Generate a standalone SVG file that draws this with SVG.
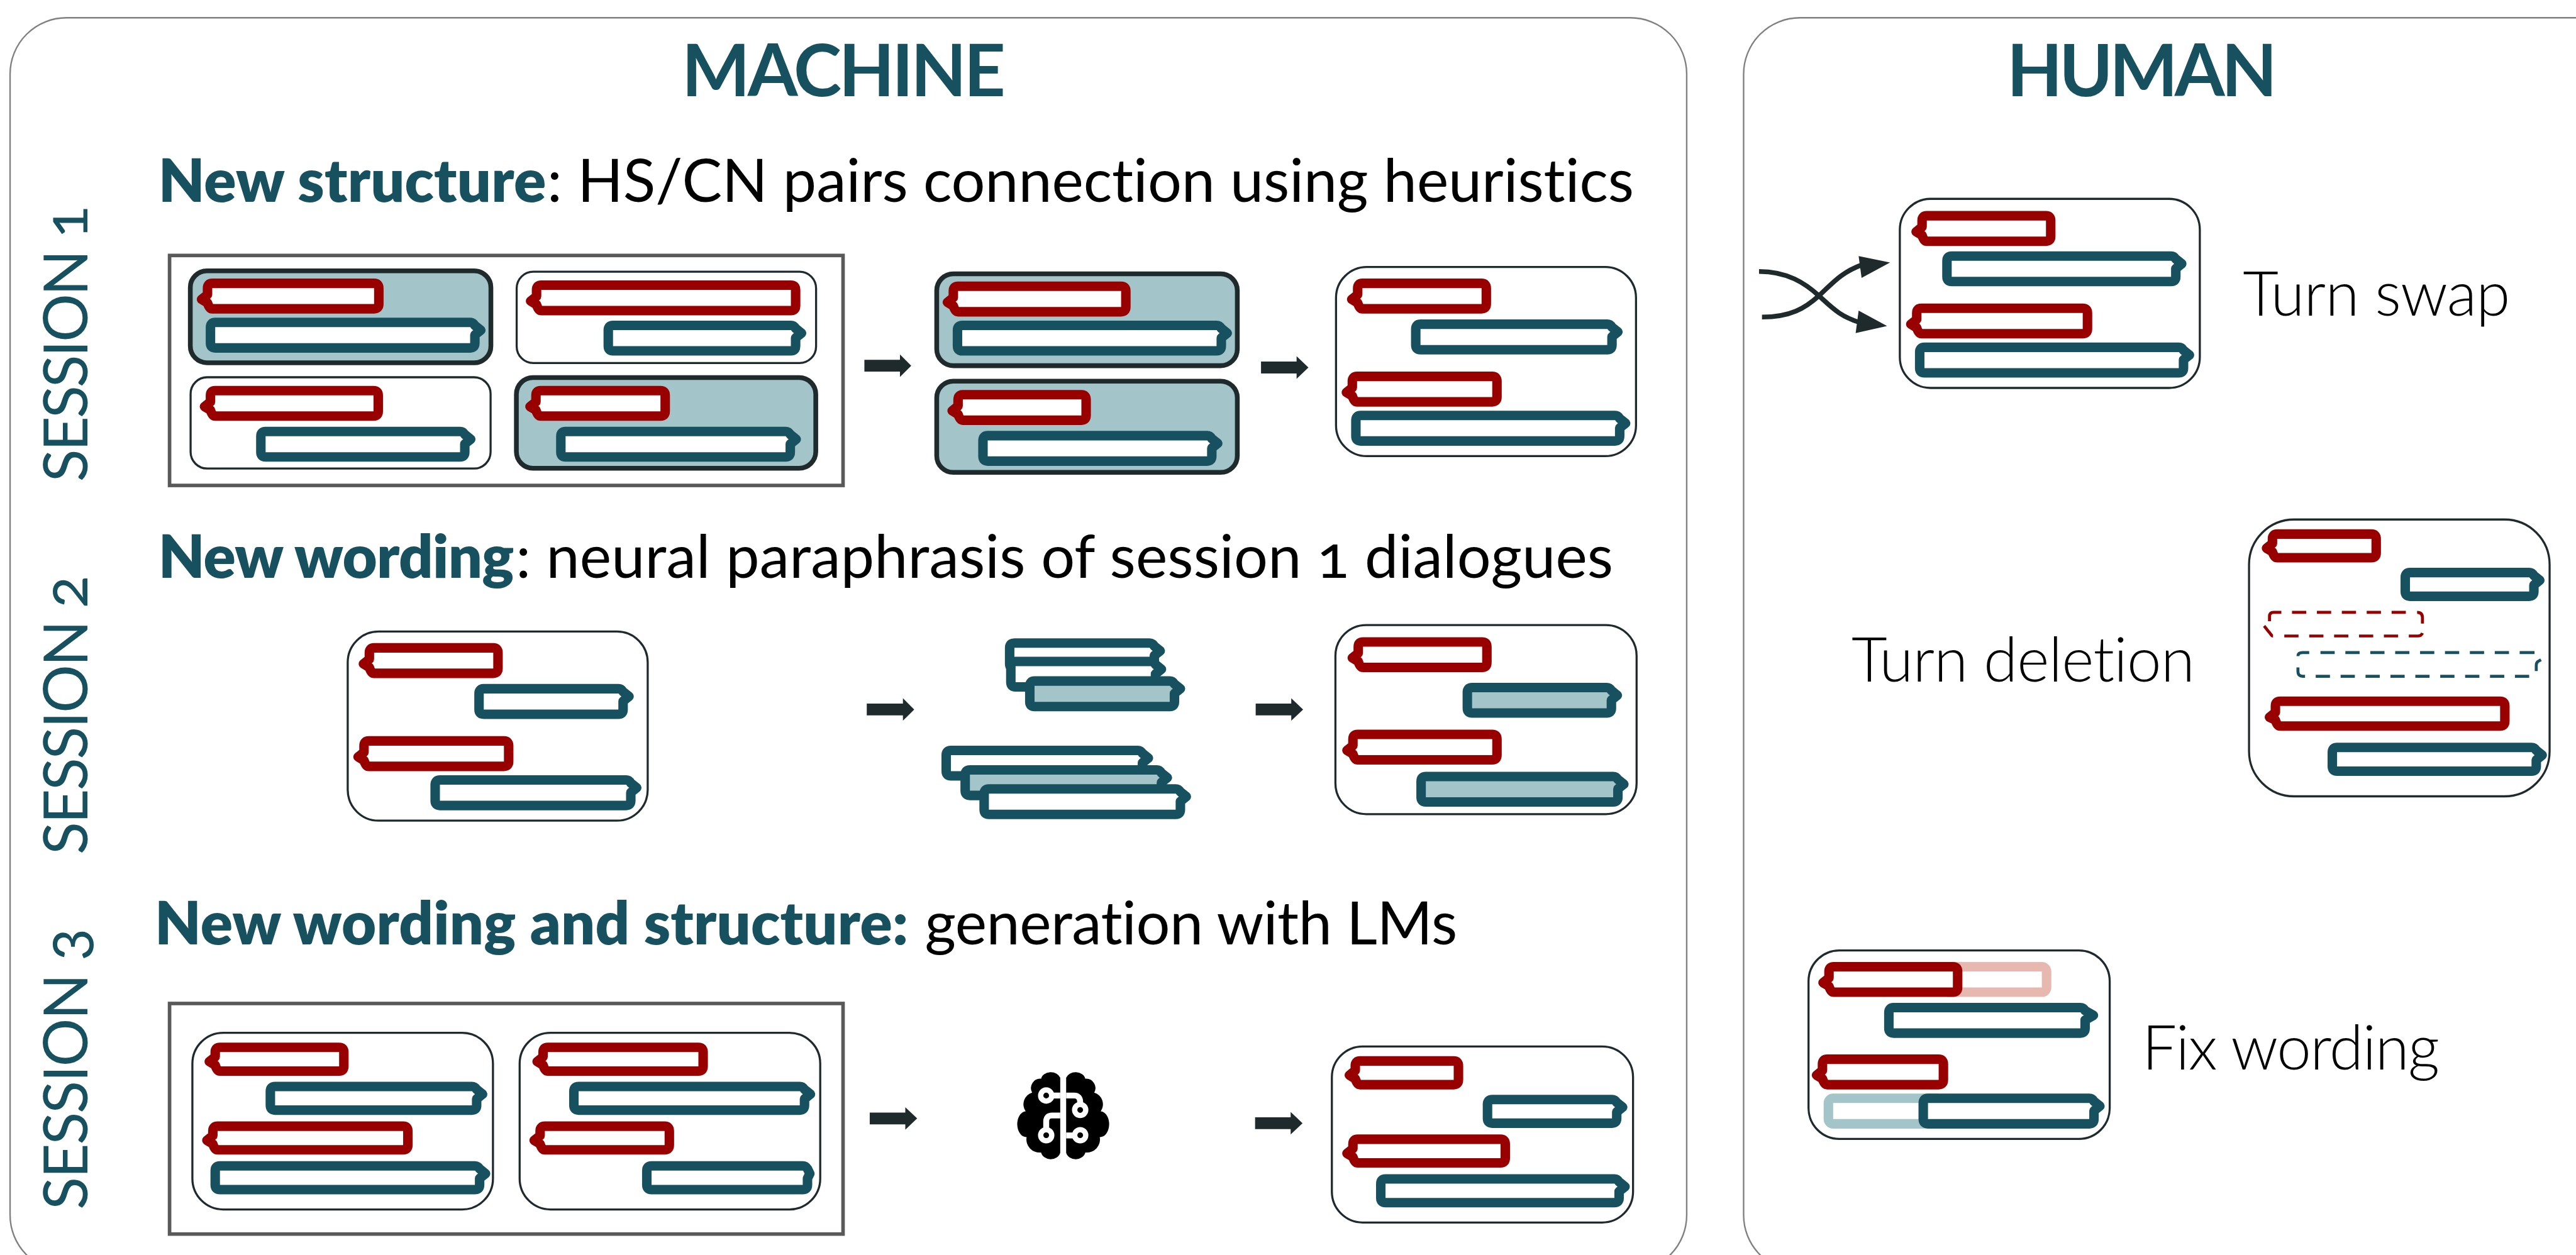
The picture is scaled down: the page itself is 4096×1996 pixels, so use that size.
<svg xmlns="http://www.w3.org/2000/svg" width="4096" height="1996" viewBox="0 0 4096 1996">
<style>
.panel{fill:#fff;stroke:#808080;stroke-width:2.5}
.frame{fill:#fff;stroke:#595959;stroke-width:6}
.thin{fill:#fff;stroke:#1f2a2c;stroke-width:3.5}
.thick{fill:#a3c4c9;stroke:#1f2a2c;stroke-width:8}
.r,.b,.pr,.pb{stroke-width:16;fill:#fff;stroke-linejoin:round}
.r{stroke:#980000}
.b{stroke:#17505f}
.f{fill:#a3c4c9}
.pr{stroke:#e6b8af}
.pb{stroke:#a3c4c9}
.dr,.db{fill:none;stroke-width:5}
.dr{stroke:#980000}
.db{stroke:#17505f}
.arrow{fill:#1f2a2c}
.swap{fill:none;stroke:#1f2a2c;stroke-width:8}
text{font-family:"Lato","Liberation Sans",sans-serif;font-variant-ligatures:none}
.head{font-size:122px;font-weight:700;fill:#17505f}
.tb{font-size:101px;font-weight:800;fill:#17505f}
.tr{font-size:101px;font-weight:400;fill:#000;font-variant-numeric:oldstyle-nums}
.lab{font-size:104px;font-weight:300;fill:#000}
.ses{font-size:102px;font-weight:400;fill:#17505f;font-variant-numeric:oldstyle-nums}
</style>
<rect width="4096" height="1996" fill="#fff"/>
<g transform="scale(0.94269)">
<g id="panel-machine"><rect class="panel" x="17" y="30" width="2828" height="2115" rx="95"/>
<text class="head" x="1150" y="162" textLength="546">MACHINE</text></g>
<g id="panel-human"><rect class="panel" x="2941" y="30" width="1500" height="2115" rx="95"/>
<text class="head" x="3385" y="162" textLength="456">HUMAN</text></g>

<g id="session-labels">
<text class="ses" transform="translate(147 813) rotate(-90)" textLength="466">SESSION 1</text>
<text class="ses" transform="translate(147 1442) rotate(-90)" textLength="471">SESSION 2</text>
<text class="ses" transform="translate(147 2041) rotate(-90)" textLength="475">SESSION 3</text>
</g>
<g id="titles">
<text class="tb" x="267" y="341" textLength="654">New structure</text>
<text class="tr" x="923" y="341" textLength="1833">: HS/CN pairs connection using heuristics</text>
<text class="tb" x="267" y="975" textLength="600">New wording</text>
<text class="tr" x="870" y="975" textLength="1851">: neural paraphrasis of session 1 dialogues</text>
<text class="tb" x="261" y="1593" textLength="1271">New wording and structure:</text>
<text class="tr" x="1560" y="1593" textLength="898">generation with LMs</text>
</g>

<g id="s1-pool">
<rect class="frame" x="286" y="431" width="1136" height="388"/>
<g id="s1-pool-a"><rect class="thick" x="321" y="457" width="507" height="155" rx="28"/>
<path class="r" d="M358 478h273q8 0 8 8v27q0 8-8 8h-273q-5 0-8-10l-10-6 10-8v-11q0-8 8-8z"/>
<path class="b" d="M363 544h430q5 0 8 5l10 8-10 8v14q0 8-8 8h-430q-8 0-8-8v-27q0-8 8-8z"/></g>
<g id="s1-pool-b"><rect class="thin" x="871.5" y="458.5" width="505" height="154" rx="28"/>
<path class="r" d="M913 481h421q8 0 8 8v27q0 8-8 8h-421q-5 0-8-10l-10-6 10-8v-11q0-8 8-8z"/>
<path class="b" d="M1034 549h300q5 0 8 5l10 8-10 8v14q0 8-8 8h-300q-8 0-8-8v-27q0-8 8-8z"/></g>
<g id="s1-pool-c"><rect class="thin" x="321.5" y="636.5" width="506" height="154" rx="28"/>
<path class="r" d="M363 659h267q8 0 8 8v27q0 8-8 8h-267q-5 0-8-10l-10-6 10-8v-11q0-8 8-8z"/>
<path class="b" d="M448 728h328q5 0 8 5l10 8-10 8v14q0 8-8 8h-328q-8 0-8-8v-27q0-8 8-8z"/></g>
<g id="s1-pool-d"><rect class="thick" x="871" y="637" width="505" height="153" rx="28"/>
<path class="r" d="M912 659h202q8 0 8 8v27q0 8-8 8h-202q-5 0-8-10l-10-6 10-8v-11q0-8 8-8z"/>
<path class="b" d="M954 728h371q5 0 8 5l10 8-10 8v14q0 8-8 8h-371q-8 0-8-8v-27q0-8 8-8z"/></g>
</g>

<g id="s1-selected">
<g id="s1-sel-a"><rect class="thick" x="1580" y="462" width="507" height="155" rx="28"/>
<path class="r" d="M1616 483h275q8 0 8 8v27q0 8-8 8h-275q-5 0-8-10l-10-6 10-8v-11q0-8 8-8z"/>
<path class="b" d="M1623 549h429q5 0 8 5l10 8-10 8v14q0 8-8 8h-429q-8 0-8-8v-27q0-8 8-8z"/></g>
<g id="s1-sel-b"><rect class="thick" x="1580" y="643" width="507" height="154" rx="28"/>
<path class="r" d="M1624 666h200q8 0 8 8v27q0 8-8 8h-200q-5 0-8-10l-10-6 10-8v-11q0-8 8-8z"/>
<path class="b" d="M1666 735h370q5 0 8 5l10 8-10 8v14q0 8-8 8h-370q-8 0-8-8v-27q0-8 8-8z"/></g>
</g>

<g id="s1-result"><rect class="thin" x="2253.5" y="450.5" width="506" height="319" rx="52"/>
<path class="r" d="M2298 478h201q8 0 8 8v27q0 8-8 8h-201q-5 0-8-10l-10-6 10-8v-11q0-8 8-8z"/>
<path class="b" d="M2396 547h315q5 0 8 5l10 8-10 8v14q0 8-8 8h-315q-8 0-8-8v-27q0-8 8-8z"/>
<path class="r" d="M2289 635h228q8 0 8 8v27q0 8-8 8h-228q-5 0-8-10l-10-6 10-8v-11q0-8 8-8z"/>
<path class="b" d="M2295 701h429q5 0 8 5l10 8-10 8v14q0 8-8 8h-429q-8 0-8-8v-27q0-8 8-8z"/></g>

<g id="s2-source"><rect class="thin" x="586.5" y="1065.5" width="506" height="319" rx="52"/>
<path class="r" d="M631 1093h201q8 0 8 8v27q0 8-8 8h-201q-5 0-8-10l-10-6 10-8v-11q0-8 8-8z"/>
<path class="b" d="M816 1162h227q5 0 8 5l10 8-10 8v14q0 8-8 8h-227q-8 0-8-8v-27q0-8 8-8z"/>
<path class="r" d="M622 1250h228q8 0 8 8v27q0 8-8 8h-228q-5 0-8-10l-10-6 10-8v-11q0-8 8-8z"/>
<path class="b" d="M742 1316h314q5 0 8 5l10 8-10 8v14q0 8-8 8h-314q-8 0-8-8v-27q0-8 8-8z"/></g>

<g id="s2-paraphrases">
<path class="b" d="M1711 1085h228q5 0 8 5l10 8-10 8v14q0 8-8 8h-228q-8 0-8-8v-27q0-8 8-8z"/>
<path class="b" d="M1713 1116h228q5 0 8 5l10 8-10 8v14q0 8-8 8h-228q-8 0-8-8v-27q0-8 8-8z"/>
<path class="b f" d="M1745 1149h228q5 0 8 5l10 8-10 8v14q0 8-8 8h-228q-8 0-8-8v-27q0-8 8-8z"/>
<path class="b" d="M1604 1266h315q5 0 8 5l10 8-10 8v14q0 8-8 8h-315q-8 0-8-8v-27q0-8 8-8z"/>
<path class="b f" d="M1636 1299h315q5 0 8 5l10 8-10 8v14q0 8-8 8h-315q-8 0-8-8v-27q0-8 8-8z"/>
<path class="b" d="M1668 1331h315q5 0 8 5l10 8-10 8v14q0 8-8 8h-315q-8 0-8-8v-27q0-8 8-8z"/>
</g>

<g id="s2-result"><rect class="thin" x="2252.5" y="1054.5" width="508" height="319" rx="52"/>
<path class="r" d="M2299 1083h201q8 0 8 8v27q0 8-8 8h-201q-5 0-8-10l-10-6 10-8v-11q0-8 8-8z"/>
<path class="b f" d="M2483 1160h227q5 0 8 5l10 8-10 8v14q0 8-8 8h-227q-8 0-8-8v-27q0-8 8-8z"/>
<path class="r" d="M2290 1239h227q8 0 8 8v27q0 8-8 8h-227q-5 0-8-10l-10-6 10-8v-11q0-8 8-8z"/>
<path class="b f" d="M2405 1310h316q5 0 8 5l10 8-10 8v14q0 8-8 8h-316q-8 0-8-8v-27q0-8 8-8z"/></g>

<g id="s3-examples">
<rect class="frame" x="286" y="1693" width="1136" height="389"/>
<g id="s3-ex-a"><rect class="thin" x="324.5" y="1742.5" width="507" height="298" rx="52"/>
<path class="r" d="M371 1767h201q8 0 8 8v24q0 8-8 8h-201q-5 0-8-10l-10-6 10-8v-8q0-8 8-8z"/>
<path class="b" d="M464 1833h332q5 0 8 5l10 8-10 8v11q0 8-8 8h-332q-8 0-8-8v-24q0-8 8-8z"/>
<path class="r" d="M367 1900h313q8 0 8 8v24q0 8-8 8h-313q-5 0-8-10l-10-6 10-8v-8q0-8 8-8z"/>
<path class="b" d="M371 1967h430q5 0 8 5l10 8-10 8v11q0 8-8 8h-430q-8 0-8-8v-24q0-8 8-8z"/></g>
<g id="s3-ex-b"><rect class="thin" x="876.5" y="1742.5" width="507" height="298" rx="52"/>
<path class="r" d="M924 1767h254q8 0 8 8v24q0 8-8 8h-254q-5 0-8-10l-10-6 10-8v-8q0-8 8-8z"/>
<path class="b" d="M976 1833h373q5 0 8 5l10 8-10 8v11q0 8-8 8h-373q-8 0-8-8v-24q0-8 8-8z"/>
<path class="r" d="M919 1900h202q8 0 8 8v24q0 8-8 8h-202q-5 0-8-10l-10-6 10-8v-8q0-8 8-8z"/>
<path class="b" d="M1099 1967h255q5 0 8 5l4 8-4 8v11q0 8-8 8h-255q-8 0-8-8v-24q0-8 8-8z"/></g>
</g>

<g id="brain" transform="translate(1650 1760) scale(0.3333)">
<path fill="#000" d="M415 175A50 40 0 0 0 318 180A47 47 0 0 0 273 250A62 62 0 0 0 240 345A45 65 0 0 0 245 475A66 66 0 0 0 318 553A50 44 0 0 0 415 555Z"/>
<path fill="#000" d="M445 175A50 40 0 0 1 542 180A47 47 0 0 1 587 250A62 62 0 0 1 620 345A45 65 0 0 1 615 475A66 66 0 0 1 542 553A50 44 0 0 1 445 555Z"/>
<g fill="none" stroke="#fff" stroke-width="30">
<path d="M344 265H415"/>
<path d="M445 265H485Q516 265 516 300V338"/>
<path d="M344 466V396Q344 366 374 366H415"/>
<path d="M445 467H516"/>
</g>
<g fill="#000" stroke="#fff" stroke-width="27">
<circle cx="344" cy="265" r="28"/>
<circle cx="516" cy="338" r="28"/>
<circle cx="344" cy="466" r="28"/>
<circle cx="516" cy="466" r="28"/>
</g>
</g>

<g id="s3-result"><rect class="thin" x="2246.5" y="1765.5" width="508" height="297" rx="52"/>
<path class="r" d="M2294 1790h158q8 0 8 8v24q0 8-8 8h-158q-5 0-8-10l-10-6 10-8v-8q0-8 8-8z"/>
<path class="b" d="M2517 1855h202q5 0 8 5l10 8-10 8v11q0 8-8 8h-202q-8 0-8-8v-24q0-8 8-8z"/>
<path class="r" d="M2290 1922h241q8 0 8 8v24q0 8-8 8h-241q-5 0-8-10l-10-6 10-8v-8q0-8 8-8z"/>
<path class="b" d="M2337 1989h386q5 0 8 5l10 8-10 8v11q0 8-8 8h-386q-8 0-8-8v-24q0-8 8-8z"/>
</g>

<g id="h-swap"><rect class="thin" x="3204.5" y="335.5" width="506" height="319" rx="52"/>
<path class="r" d="M3250 364h201q8 0 8 8v27q0 8-8 8h-201q-5 0-8-10l-10-6 10-8v-11q0-8 8-8z"/>
<path class="b" d="M3292 432h370q5 0 8 5l10 8-10 8v14q0 8-8 8h-370q-8 0-8-8v-27q0-8 8-8z"/>
<path class="r" d="M3241 520h272q8 0 8 8v27q0 8-8 8h-272q-5 0-8-10l-10-6 10-8v-11q0-8 8-8z"/>
<path class="b" d="M3246 586h429q5 0 8 5l10 8-10 8v14q0 8-8 8h-429q-8 0-8-8v-27q0-8 8-8z"/>
</g>
<text id="lab-swap" class="lab" x="3783" y="532" textLength="451">Turn swap</text>

<g id="h-deletion"><rect class="thin" x="3793.5" y="876.5" width="507" height="467" rx="76"/>
<path class="r" d="M3841 901h159q8 0 8 8v24q0 8-8 8h-159q-5 0-8-10l-10-6 10-8v-8q0-8 8-8z"/>
<path class="b" d="M4065 966h201q5 0 8 5l10 8-10 8v11q0 8-8 8h-201q-8 0-8-8v-24q0-8 8-8z"/>
<path class="dr" d="M3828 1048v-8q0-7 7-7h13M3866 1033h24M3908 1033h24M3950 1033h24M3992 1033h24M4034 1033h24M4077 1033q9 0 9 9v10M4063 1073h15q6 0 8-5M3853 1073h24M3895 1073h24M3937 1073h24M3979 1073h24M4021 1073h24M3819 1056l7 9q3 3 4 5q2 3 4 3"/>
<path class="db" d="M3876 1107q0-6 8-6h11M3914 1101h24M3956 1101h24M3998 1101h24M4040 1101h24M4082 1101h24M4124 1101h24M4166 1101h24M4208 1101h24M4250 1101h25M4286 1113l-5 3q-3 2-3 6v10M3906 1141h24M3948 1141h24M3990 1141h24M4032 1141h24M4074 1141h24M4116 1141h24M4158 1141h24M4200 1141h24M4242 1141h24M3876 1126v7q0 8 8 8h4"/>
<path class="r" d="M3846 1183h371q8 0 8 8v26q0 8-8 8h-371q-5 0-8-10l-10-5 10-8v-11q0-8 8-8z"/>
<path class="b" d="M3942 1261h328q5 0 8 5l10 8-10 8v11q0 8-8 8h-328q-8 0-8-8v-24q0-8 8-8z"/>
</g>
<text id="lab-deletion" class="lab" x="3123" y="1150" textLength="579">Turn deletion</text>

<g id="h-fix"><rect class="thin" x="3050.5" y="1603.5" width="508" height="318" rx="52"/>
<rect class="pr" x="3280" y="1631" width="172" height="43" rx="8"/>
<path class="r" d="M3093 1631h201q8 0 8 8v27q0 8-8 8h-201q-5 0-8-10l-10-6 10-8v-11q0-8 8-8z"/>
<path class="b" d="M3194 1700h315q5 0 8 5l14 8-14 8v14q0 8-8 8h-315q-8 0-8-8v-27q0-8 8-8z"/>
<path class="r" d="M3082 1787h188q8 0 8 8v27q0 8-8 8h-188q-5 0-8-10l-10-6 10-8v-11q0-8 8-8z"/>
<rect class="pb" x="3084" y="1853" width="190" height="43" rx="8"/>
<path class="b" d="M3252 1853h272q5 0 8 5l10 8-10 8v14q0 8-8 8h-272q-8 0-8-8v-27q0-8 8-8z"/>
</g>
<text id="lab-fix" class="lab" x="3613" y="1804" textLength="502">Fix wording</text>

<g id="connectors">
<path class="arrow" d="M1458 607h60v-9l19 19-19 19v-9h-60z"/>
<path class="arrow" d="M2127 610h60v-9l20 19-20 19v-9h-60z"/>
<path class="arrow" d="M1462 1187h61v-9l19 19-19 19v-9h-61z"/>
<path class="arrow" d="M2118 1187h60v-9l20 19-20 19v-9h-60z"/>
<path class="arrow" d="M1467 1877h60v-9l20 19-20 19v-9h-60z"/>
<path class="arrow" d="M2117 1885h60v-9l20 19-20 19v-9h-60z"/>
<path class="swap" d="M2967 458C3015 458 3045 478 3068 499S3105 535 3140 545"/>
<path class="swap" d="M2972 535C3020 535 3045 520 3068 499S3105 460 3140 447"/>
<path class="arrow" d="M3135 524L3183 550L3130 562z"/>
<path class="arrow" d="M3135 432L3188 443L3140 469z"/>
</g>
</g>
</svg>
